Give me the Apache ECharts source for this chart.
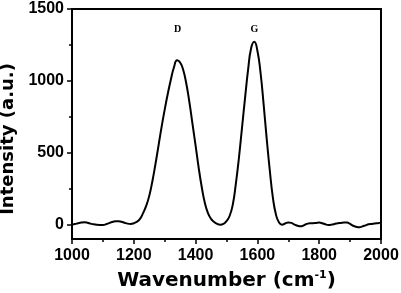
<!DOCTYPE html>
<html>
<head>
<meta charset="utf-8">
<script src="https://cdn.jsdelivr.net/npm/echarts@6/dist/echarts.min.js"></script>
<style>
  html, body { margin: 0; padding: 0; background: #fff; }
  #chart { width: 401px; height: 293px; }
</style>
</head>
<body>
<div id="chart"></div>
<script>
// Raman spectrum
const wavenumber = [
  1000, 1010, 1020, 1030, 1040, 1050, 1060, 1070, 1080, 1090,
  1100, 1110, 1120, 1130, 1140, 1150, 1160, 1170, 1180, 1190,
  1200, 1210, 1220, 1230, 1240, 1250, 1260, 1270, 1280, 1290,
  1300, 1310, 1320, 1330, 1340, 1350, 1360, 1370, 1380, 1390,
  1400, 1410, 1420, 1430, 1440, 1450, 1460, 1470, 1480, 1490,
  1500, 1510, 1520, 1530, 1540, 1550, 1560, 1570, 1580, 1590,
  1600, 1610, 1620, 1630, 1640, 1650, 1660, 1670, 1680, 1690,
  1700, 1710, 1720, 1730, 1740, 1750, 1760, 1770, 1780, 1790,
  1800, 1810, 1820, 1830, 1840, 1850, 1860, 1870, 1880, 1890,
  1900, 1910, 1920, 1930, 1940, 1950, 1960, 1970, 1980, 1990, 2000
];
const intensity = [
  0, 5, 10, 14, 16, 13, 7, 2, -1, -2,
  -2, 2, 10, 18, 23, 24, 20, 13, 7, 5,
  10, 20, 40, 80, 130, 200, 300, 420, 550, 680,
  800, 910, 1010, 1095, 1143, 1128, 1075, 980, 850, 700,
  550, 395, 260, 150, 80, 40, 18, 5, 0, 5,
  25, 60, 135, 280, 460, 670, 880, 1080, 1230, 1272,
  1210, 1060, 840, 600, 380, 190, 70, 15, 0, 8,
  15, 12, 0, -8, -12, -5, 5, 10, 10, 12,
  14, 10, 2, -2, 0, 5, 10, 12, 14, 14,
  5, -8, -15, -18, -12, -5, 2, 5, 8, 10, 14
];
const peakNames = ['D', 'G'];
const peakPos = [1342, 1590];
const peakLabelY = 1360;
const yMajor = [0, 500, 1000, 1500];
const yMinor = [250, 750, 1250];

const font = '"Liberation Sans", Arial, sans-serif';
const titleFont = '"DejaVu Sans", sans-serif';
const chart = echarts.init(document.getElementById('chart'));

const yBase = {
  type: 'value',
  min: -100,
  max: 1500,
  position: 'left',
  splitLine: { show: false },
  axisLine: { show: true, lineStyle: { color: '#000', width: 2 } }
};

const option = {
  backgroundColor: '#fff',
  animation: false,
  grid: {
    left: 72, right: 20, top: 9, bottom: 54,
    containLabel: false,
    outerBoundsMode: 'none',
    show: true, borderColor: '#000', borderWidth: 2
  },
  xAxis: {
    type: 'value',
    min: 1000,
    max: 2000,
    interval: 200,
    name: 'Wavenumber (cm{sup|-1})',
    nameLocation: 'middle',
    nameGap: 31,
    nameTextStyle: {
      fontFamily: titleFont, fontWeight: 'bold', fontSize: 20, color: '#000',
      rich: {
        sup: { fontFamily: titleFont, fontWeight: 'bold', fontSize: 11, color: '#000', verticalAlign: 'top', padding: [0, 0, 10, 0] }
      }
    },
    splitLine: { show: false },
    axisLine: { onZero: false, lineStyle: { color: '#000', width: 2 } },
    axisTick: { length: 5, lineStyle: { color: '#000', width: 1.5 } },
    minorTick: { show: true, splitNumber: 2, length: 3, lineStyle: { color: '#000', width: 1.5 } },
    axisLabel: { margin: 9, fontFamily: font, fontWeight: 'bold', fontSize: 16, color: '#000', formatter: v => String(v) }
  },
  yAxis: [
    Object.assign({}, yBase, {
      name: 'Intensity (a.u.)',
      nameLocation: 'middle',
      nameGap: 48,
      nameTextStyle: { fontFamily: titleFont, fontWeight: 'bold', fontSize: 18, color: '#000', padding: [0, 30, 0, 0] },
      axisTick: { length: 5, customValues: yMajor, lineStyle: { color: '#000', width: 1.5 } },
      axisLabel: { margin: 8, customValues: yMajor, fontFamily: font, fontWeight: 'bold', fontSize: 16, color: '#000', formatter: v => String(v) }
    }),
    Object.assign({}, yBase, {
      axisLine: { show: false },
      axisTick: { length: 3, customValues: yMinor, lineStyle: { color: '#000', width: 1.5 } },
      axisLabel: { show: false, customValues: yMinor }
    })
  ],
  series: [{
    type: 'line',
    data: wavenumber.map((w, i) => [w, intensity[i]]),
    smooth: true,
    showSymbol: false,
    lineStyle: { color: '#000', width: 2 },
    markPoint: {
      symbol: 'circle',
      symbolSize: 0,
      label: {
        show: true, position: 'inside',
        fontFamily: '"Liberation Serif", serif', fontWeight: 'bold', fontSize: 10, color: '#000',
        formatter: p => p.name
      },
      data: peakNames.map((n, i) => ({ name: n, coord: [peakPos[i], peakLabelY] }))
    }
  }]
};

chart.setOption(option);
</script>
</body>
</html>
